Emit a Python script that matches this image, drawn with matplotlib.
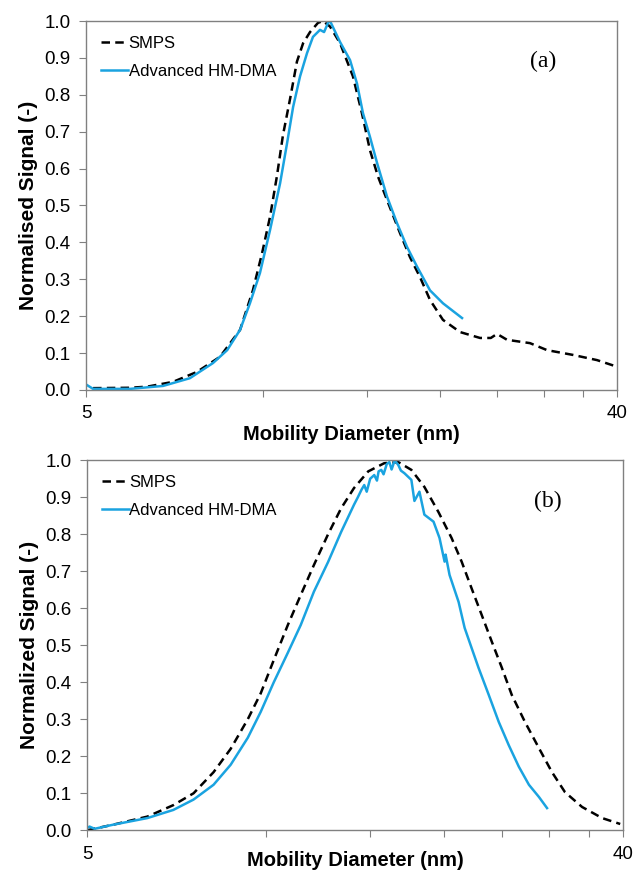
import matplotlib
matplotlib.use("Agg")
import matplotlib.pyplot as plt
import numpy as np
from matplotlib.ticker import FixedLocator, FixedFormatter

plt.rcParams["font.family"] = ["Liberation Sans", "DejaVu Sans"]

# panel (a)
a_smps_d = [5.14, 5.94, 6.35, 7.03, 7.72, 8.45, 9.14, 9.61, 9.96, 10.28, 10.56, 10.81,
            11.12, 11.42, 11.70, 12.02, 12.40, 12.65, 13.0, 13.52, 14.22, 14.73, 15.20,
            15.69, 16.25, 17.10, 17.78, 18.49, 19.23, 20.23, 21.63, 23.39, 24.4, 25.0,
            26.0, 28.44, 30.41, 33.67, 36.98, 40.0]
a_smps_y = [0.005, 0.006, 0.009, 0.022, 0.049, 0.09, 0.163, 0.27, 0.37, 0.47, 0.58, 0.69,
            0.79, 0.89, 0.94, 0.97, 0.995, 1.0, 0.985, 0.94, 0.85, 0.75, 0.65,
            0.578, 0.515, 0.425, 0.36, 0.306, 0.244, 0.19, 0.157, 0.141, 0.141, 0.152,
            0.136, 0.127, 0.108, 0.095, 0.081, 0.063]
a_hm_d = [5.0, 5.14, 5.94, 6.76, 7.51, 8.22, 8.69, 9.14, 9.50, 9.88, 10.28, 10.69, 10.99,
          11.25, 11.56, 11.88, 12.16, 12.50, 12.70, 12.90, 13.0, 13.52, 14.06, 14.45,
          14.79, 15.20, 15.63, 16.25, 16.90, 17.57, 18.28, 19.23, 20.23, 21.80]
a_hm_y = [0.015, 0.003, 0.003, 0.011, 0.032, 0.073, 0.108, 0.163, 0.235, 0.317, 0.434,
          0.56, 0.67, 0.767, 0.85, 0.913, 0.957, 0.976, 0.97, 0.995, 1.0, 0.943, 0.894,
          0.83, 0.75, 0.686, 0.615, 0.524, 0.452, 0.388, 0.334, 0.27, 0.235, 0.195]

# panel (b)
b_smps_d = [5.0, 5.53, 6.32, 6.99, 7.56, 8.17, 8.73, 9.33, 9.81, 10.32, 10.90, 11.46,
            12.06, 12.74, 13.40, 14.09, 14.89, 15.06, 15.84, 16.73, 17.60, 18.51, 19.55,
            20.57, 21.39, 22.23, 23.12, 24.04, 24.99, 25.98, 27.34, 28.87, 30.37, 31.94,
            34.13, 36.89, 39.57]
b_smps_y = [0.0, 0.015, 0.037, 0.068, 0.10, 0.157, 0.22, 0.30, 0.37, 0.46, 0.555, 0.636,
            0.717, 0.80, 0.87, 0.925, 0.97, 0.974, 0.992, 0.995, 0.974, 0.928, 0.86,
            0.79, 0.726, 0.654, 0.582, 0.51, 0.44, 0.366, 0.293, 0.222, 0.157, 0.103,
            0.063, 0.033, 0.017]
b_hm_d = [5.0, 5.05, 5.15, 5.53, 6.32, 6.99, 7.56, 8.17, 8.73, 9.33, 9.81, 10.32, 10.90,
          11.46, 12.06, 12.74, 13.40, 14.09, 14.3, 14.5, 14.66, 14.8, 15.0, 15.24, 15.4,
          15.5, 15.66, 15.8, 16.0, 16.16, 16.3, 16.5, 16.73, 16.9, 17.13, 17.60, 17.81,
          18.16, 18.51, 19.18, 19.63, 20.02, 20.1, 20.41, 21.14, 21.64, 22.23, 22.84,
          23.76, 24.70, 25.68, 26.70, 27.77, 28.87, 29.79]
b_hm_y = [0.006, 0.01, 0.004, 0.015, 0.033, 0.055, 0.083, 0.123, 0.177, 0.25, 0.32, 0.40,
          0.48, 0.555, 0.645, 0.725, 0.806, 0.88, 0.90, 0.92, 0.933, 0.915, 0.95, 0.96,
          0.945, 0.97, 0.974, 0.962, 0.99, 0.995, 0.975, 1.0, 0.987, 0.972, 0.965, 0.947,
          0.89, 0.915, 0.853, 0.834, 0.79, 0.726, 0.745, 0.69, 0.617, 0.547, 0.493,
          0.439, 0.366, 0.293, 0.23, 0.172, 0.123, 0.09, 0.06]

blue = "#1aa3e0"
grey = "#808080"

fig = plt.figure(figsize=(6.33, 8.75), dpi=100)
ax1 = fig.add_axes([0.1359, 0.5543, 0.8389, 0.4217])
ax2 = fig.add_axes([0.1374, 0.0511, 0.8468, 0.4229])

panels = [(ax1, a_smps_d, a_smps_y, a_hm_d, a_hm_y, "Normalised Signal (-)", "(a)", 2),
          (ax2, b_smps_d, b_smps_y, b_hm_d, b_hm_y, "Normalized Signal (-)", "(b)", -8)]

for ax, sd, sy, hd, hy, ylab, tag, xpad in panels:
    ax.plot(sd, sy, color="black", lw=1.8, linestyle=(0, (3.4, 2.1)), label="SMPS")
    ax.plot(hd, hy, color=blue, lw=1.8, label="Advanced HM-DMA")
    ax.set_xscale("log")
    ax.set_xlim(5, 40)
    ax.set_ylim(0, 1)
    ax.xaxis.set_major_locator(FixedLocator([5, 10, 15, 20, 25, 30, 35, 40]))
    ax.xaxis.set_major_formatter(FixedFormatter(["5", "", "", "", "", "", "", "40"]))
    ax.xaxis.set_minor_locator(FixedLocator([]))
    ax.set_yticks(np.arange(0, 1.01, 0.1))
    ax.set_yticklabels(["%.1f" % v for v in np.arange(0, 1.01, 0.1)])
    ax.tick_params(axis="both", labelsize=13.5, length=5, color=grey, pad=6)
    for s in ax.spines.values():
        s.set_color(grey)
        s.set_linewidth(1)
    ax.set_xlabel("Mobility Diameter (nm)", fontsize=14.5, fontweight="bold", labelpad=xpad)
    ax.set_ylabel(ylab, fontsize=15, fontweight="bold", labelpad=5)
    ax.text(0.86, 0.89, tag, transform=ax.transAxes, fontsize=17,
            family=["Liberation Serif", "DejaVu Serif"], ha="center", va="center")
    ax.legend(loc="upper left", frameon=False, fontsize=12, handlelength=1.6,
              handletextpad=0.05, labelspacing=0.75, borderaxespad=0.5)

fig.savefig("out.png", dpi=100)
